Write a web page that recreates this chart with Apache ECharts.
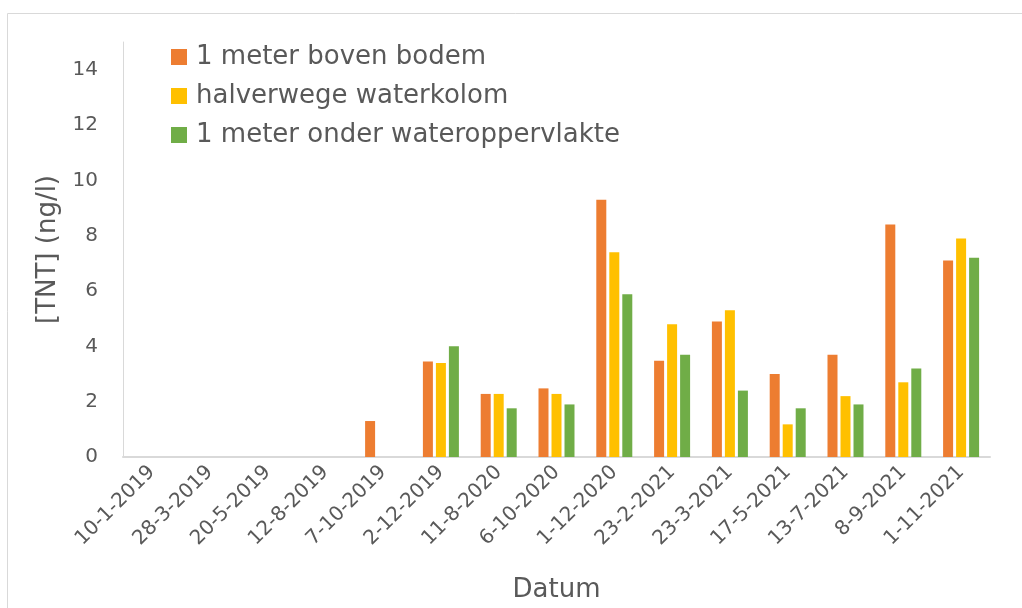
<!DOCTYPE html>
<html>
<head>
<meta charset="utf-8">
<script src="https://cdn.jsdelivr.net/npm/echarts@6/dist/echarts.min.js"></script>
<style>
  html, body { margin: 0; padding: 0; background: #fff; }
  #chart { width: 1022px; height: 608px; }
</style>
</head>
<body>
<div id="chart"></div>
<script>
const datums = [
  "10-1-2019", "28-3-2019", "20-5-2019", "12-8-2019", "7-10-2019",
  "2-12-2019", "11-8-2020", "6-10-2020", "1-12-2020", "23-2-2021",
  "23-3-2021", "17-5-2021", "13-7-2021", "8-9-2021", "1-11-2021"
];
const bovenBodem = [null, null, null, null, 1.3, 3.45, 2.28, 2.48, 9.3, 3.48, 4.9, 3.0, 3.7, 8.4, 7.1];
const halverwege = [null, null, null, null, null, 3.4, 2.28, 2.28, 7.4, 4.8, 5.3, 1.18, 2.2, 2.7, 7.9];
const onderOppervlak = [null, null, null, null, null, 4.0, 1.76, 1.9, 5.88, 3.7, 2.4, 1.76, 1.9, 3.2, 7.2];
const seriesNames = ["1 meter boven bodem", "halverwege waterkolom", "1 meter onder wateroppervlakte"];
const colors = ["#ED7D31", "#FFC000", "#70AD47"];

const font = "DejaVu Sans";
const textColor = "#595959";

let chartDom = document.getElementById("chart");
let myChart = echarts.init(chartDom);

let option = {
  animation: false,
  color: colors,
  textStyle: { fontFamily: font },
  graphic: [
    {
      type: "rect",
      shape: { x: 7.5, y: 13.5, width: 1030, height: 620 },
      style: { fill: "none", stroke: "#d9d9d9", lineWidth: 1 },
      silent: true,
    },
  ],
  legend: {
    orient: "vertical",
    left: 166,
    top: 39,
    itemWidth: 16,
    itemHeight: 16,
    itemGap: 13,
    icon: "rect",
    textStyle: { fontSize: 26, color: textColor, fontFamily: font, padding: [0, 0, 0, 4] },
    data: seriesNames,
  },
  grid: { left: 123, right: 32, top: 42, bottom: 149 },
  xAxis: {
    type: "category",
    data: datums,
    name: "Datum",
    nameLocation: "middle",
    nameGap: 120,
    nameTextStyle: { fontSize: 26, color: textColor, fontFamily: font },
    axisLine: { lineStyle: { color: "#d9d9d9", width: 2 } },
    axisTick: { show: false },
    axisLabel: {
      rotate: 45,
      interval: 0,
      fontSize: 20,
      color: textColor,
      margin: 12,
    },
  },
  yAxis: {
    type: "value",
    min: 0,
    max: 15,
    interval: 2,
    name: "[TNT] (ng/l)",
    nameLocation: "middle",
    nameGap: 62,
    nameTextStyle: { fontSize: 26, color: textColor, fontFamily: font },
    axisLine: { show: true, lineStyle: { color: "#d9d9d9" } },
    axisTick: { show: false },
    splitLine: { show: false },
    axisLabel: {
      fontSize: 20,
      color: textColor,
      margin: 25,
      showMaxLabel: false,
    },
  },
  series: [
    { name: seriesNames[0], type: "bar", data: bovenBodem, barWidth: 10, barGap: "30%" },
    { name: seriesNames[1], type: "bar", data: halverwege, barWidth: 10, barGap: "30%" },
    { name: seriesNames[2], type: "bar", data: onderOppervlak, barWidth: 10, barGap: "30%" },
  ],
};

option && myChart.setOption(option);
</script>
</body>
</html>
